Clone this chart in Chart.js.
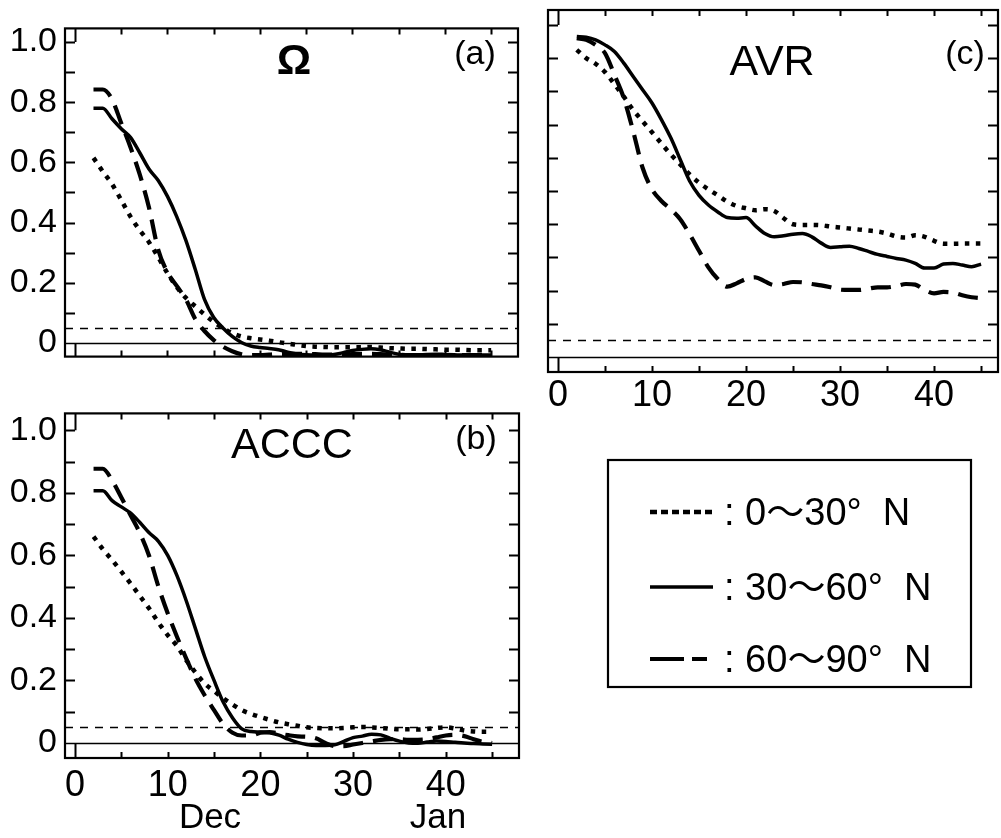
<!DOCTYPE html>
<html>
<head>
<meta charset="utf-8">
<script src="https://cdn.jsdelivr.net/npm/chart.js@4.4.1/dist/chart.umd.min.js"></script>
<style>
  html, body { margin: 0; padding: 0; background: #fff; }
  body { width: 1001px; height: 838px; position: relative; overflow: hidden;
         font-family: "Liberation Sans", Arial, "Noto Sans CJK JP", sans-serif; }
  canvas { position: absolute; }
  #legend { position: absolute; left: 0; top: 0; }
</style>
</head>
<body>
<canvas id="pa" width="530" height="385" style="left:0;top:0"></canvas>
<canvas id="pb" width="530" height="453" style="left:0;top:385px"></canvas>
<canvas id="pc" width="481" height="410" style="left:520px;top:0"></canvas>
<svg id="legend" width="1001" height="838" xmlns="http://www.w3.org/2000/svg"></svg>
<script>
// ---------------- data ----------------
const days = [2,3,4,5,6,7,8,9,10,11,12,13,14,15,16,17,18,19,20,21,22,23,24,25,26,27,28,29,30,31,32,33,34,35,36,37,38,39,40,41,42,43,44,45];

// (a) Omega
const omegaLow  = [0.615,0.57,0.528,0.475,0.42,0.375,0.335,0.285,0.232,0.186,0.15,0.122,0.095,0.07,0.05,0.033,0.022,0.016,0.012,0.008,0.003,-0.002,-0.006,-0.01,-0.012,-0.013,-0.014,-0.014,-0.014,-0.014,-0.013,-0.015,-0.017,-0.018,-0.019,-0.019,-0.02,-0.021,-0.022,-0.022,-0.023,-0.024,-0.024,-0.024];
const omegaMid  = [0.78,0.78,0.745,0.712,0.683,0.632,0.578,0.54,0.487,0.42,0.34,0.245,0.145,0.085,0.05,0.022,0.002,-0.01,-0.015,-0.018,-0.022,-0.03,-0.036,-0.039,-0.04,-0.04,-0.038,-0.032,-0.025,-0.021,-0.019,-0.022,-0.03,-0.037,-0.04,-0.04,-0.038,-0.037,-0.038,-0.039,-0.04,-0.04,-0.04,-0.04];
const omegaHigh = [0.842,0.842,0.81,0.73,0.65,0.56,0.45,0.31,0.235,0.19,0.145,0.08,0.04,0.01,-0.012,-0.027,-0.037,-0.04,-0.04,-0.038,-0.036,-0.036,-0.036,-0.036,-0.037,-0.038,-0.038,-0.038,-0.037,-0.036,-0.036,-0.037,-0.038,-0.039,-0.04,-0.04,-0.04,-0.04,-0.04,-0.04,-0.04,-0.04,-0.04,-0.04];

// (b) ACCC
const acccLow  = [0.66,0.62,0.585,0.548,0.51,0.47,0.43,0.385,0.345,0.31,0.265,0.225,0.19,0.166,0.143,0.123,0.105,0.093,0.083,0.074,0.066,0.06,0.055,0.05,0.048,0.047,0.047,0.048,0.05,0.051,0.05,0.048,0.046,0.044,0.044,0.043,0.045,0.048,0.05,0.046,0.04,0.037,0.036,0.036];
const acccMid  = [0.807,0.807,0.775,0.755,0.735,0.705,0.672,0.645,0.6,0.535,0.455,0.365,0.275,0.2,0.13,0.08,0.045,0.037,0.035,0.033,0.025,0.012,0.002,-0.005,-0.008,-0.008,-0.006,0.005,0.017,0.022,0.028,0.026,0.015,0.006,0.0,-0.001,0.003,0.006,0.005,0.002,0.0,-0.002,-0.003,-0.004];
const acccHigh = [0.877,0.877,0.84,0.785,0.728,0.671,0.598,0.5,0.415,0.34,0.27,0.205,0.152,0.105,0.06,0.033,0.024,0.024,0.033,0.035,0.03,0.025,0.021,0.02,0.015,0.0,-0.01,-0.01,-0.005,0.0,0.005,0.01,0.012,0.012,0.01,0.01,0.012,0.018,0.024,0.026,0.022,0.012,0.004,0.0];

// (c) AVR
const avrLow  = [0.925,0.9,0.883,0.858,0.822,0.784,0.744,0.71,0.677,0.643,0.61,0.58,0.55,0.525,0.505,0.487,0.468,0.455,0.448,0.442,0.445,0.44,0.418,0.4,0.398,0.398,0.397,0.393,0.39,0.387,0.384,0.381,0.378,0.372,0.363,0.36,0.367,0.362,0.35,0.341,0.341,0.342,0.342,0.342];
const avrMid  = [0.965,0.963,0.955,0.94,0.92,0.885,0.845,0.805,0.765,0.715,0.66,0.595,0.53,0.487,0.458,0.437,0.42,0.418,0.42,0.395,0.372,0.362,0.365,0.37,0.372,0.362,0.343,0.33,0.332,0.334,0.327,0.318,0.309,0.303,0.297,0.292,0.282,0.268,0.268,0.28,0.282,0.277,0.272,0.28];
const avrHigh = [0.96,0.955,0.94,0.915,0.85,0.78,0.68,0.57,0.505,0.47,0.445,0.415,0.37,0.32,0.27,0.235,0.212,0.222,0.235,0.24,0.228,0.217,0.22,0.226,0.225,0.22,0.216,0.21,0.203,0.202,0.202,0.206,0.21,0.21,0.214,0.22,0.218,0.202,0.192,0.196,0.194,0.186,0.18,0.177];

// axes / labels
const yTickVals   = [0, 0.2, 0.4, 0.6, 0.8, 1.0];
const yTickLabels = ['0', '0.2', '0.4', '0.6', '0.8', '1.0'];
const xTickVals   = [0, 10, 20, 30, 40];
const xTickLabels = ['0', '10', '20', '30', '40'];
const yMinorTicks = [0.1, 0.2, 0.3, 0.4, 0.5, 0.6, 0.7, 0.8, 0.9, 1.0];
const xMinorTicks = [5, 10, 15, 20, 25, 30, 35, 40, 45];
const thresholdValue = 0.05;
const panelTitles = ['Ω', 'ACCC', 'AVR'];
const panelTags = ['(a)', '(b)', '(c)'];
const monthLabels = ['Dec', 'Jan'];
const legendLabels = [': 0〜30°\u00a0\u00a0N', ': 30〜60°\u00a0\u00a0N', ': 60〜90°\u00a0\u00a0N'];

// ---------------- styles ----------------
const FONT = '"Liberation Sans", Arial, "Noto Sans CJK JP", sans-serif';
const lineStyles = [
  { w: 4.5, dash: [4.5, 6.5], legendDash: '7 4' },       // dotted
  { w: 3.5, dash: [], legendDash: '' },                  // solid
  { w: 4.2, dash: [20, 10], legendDash: '34 8 15 100' }  // long dash
];

const decor = {
  id: 'decor',
  beforeDatasetsDraw(chart, args, o) {
    const { ctx, chartArea: a, scales: { x, y } } = chart;
    ctx.save();
    ctx.strokeStyle = '#000';
    const y0 = Math.round(y.getPixelForValue(0)) + 0.5;
    ctx.lineWidth = 1.6;
    ctx.beginPath(); ctx.moveTo(a.left, y0); ctx.lineTo(a.right, y0); ctx.stroke();
    const yt = Math.round(y.getPixelForValue(thresholdValue)) + 0.5;
    ctx.setLineDash([8, 7]);
    ctx.beginPath(); ctx.moveTo(a.left, yt); ctx.lineTo(a.right, yt); ctx.stroke();
    ctx.restore();
  },
  afterDatasetsDraw(chart, args, o) {
    const { ctx, chartArea: a, scales: { x, y } } = chart;
    ctx.save();
    ctx.strokeStyle = '#000';
    ctx.lineWidth = 2;
    ctx.setLineDash([]);
    ctx.beginPath();
    yMinorTicks.forEach(v => {
      const py = Math.round(y.getPixelForValue(v)) + 0.5;
      ctx.moveTo(a.left, py); ctx.lineTo(a.left + 10, py);
      ctx.moveTo(a.right, py); ctx.lineTo(a.right - 10, py);
    });
    xMinorTicks.forEach(v => {
      const px = Math.round(x.getPixelForValue(v)) + 0.5;
      ctx.moveTo(px, a.top); ctx.lineTo(px, a.top + 6);
      ctx.moveTo(px, a.bottom); ctx.lineTo(px, a.bottom - 6);
    });
    const x0 = Math.round(x.getPixelForValue(0)) + 0.5;
    ctx.moveTo(x0, a.top); ctx.lineTo(x0, y.getPixelForValue(1.0));
    ctx.moveTo(x0, y.getPixelForValue(0)); ctx.lineTo(x0, a.bottom);
    ctx.stroke();
    ctx.lineWidth = 2.2;
    ctx.strokeRect(a.left, a.top, a.right - a.left, a.bottom - a.top);
    ctx.fillStyle = '#000';
    ctx.textAlign = 'center';
    ctx.textBaseline = 'alphabetic';
    ctx.font = (o.titleBold ? 'bold ' : '') + o.titleSize + 'px ' + FONT;
    ctx.fillText(o.title, o.titleX, o.titleY + 0.358 * o.titleSize);
    ctx.font = '34px ' + FONT;
    ctx.fillText(o.tag, o.tagX, o.tagY + 0.358 * 34);
    if (o.months) {
      ctx.font = '35px ' + FONT;
      o.months.forEach((m, i) => ctx.fillText(m, o.monthX[i], o.monthY + 0.358 * 35));
    }
    ctx.restore();
  }
};

function makeSets(seriesList) {
  return seriesList.map((arr, k) => ({
    data: days.map((d, i) => ({ x: d, y: arr[i] })),
    borderColor: '#000',
    borderWidth: lineStyles[k].w,
    borderDash: lineStyles[k].dash,
    borderCapStyle: 'butt',
    borderJoinStyle: 'round',
    pointRadius: 0,
    fill: false,
    cubicInterpolationMode: 'monotone'
  }));
}

function makeChart(id, p) {
  return new Chart(document.getElementById(id), {
    type: 'line',
    data: { datasets: makeSets(p.series) },
    options: {
      responsive: false, animation: false, events: [],
      layout: { padding: p.padding },
      plugins: { legend: { display: false }, tooltip: { enabled: false }, decor: p.decor },
      scales: {
        x: {
          type: 'linear', min: p.xmin, max: p.xmax, display: p.showX,
          grid: { display: false, drawTicks: false }, border: { display: false },
          afterBuildTicks: s => { s.ticks = xTickVals.map(v => ({ value: v })); },
          afterFit: s => { s.height = p.showX ? p.xAxisH : 0; },
          ticks: { padding: p.xPad, color: '#000', font: { family: FONT, size: 36 },
                   maxRotation: 0, autoSkip: false,
                   callback: (v) => xTickLabels[xTickVals.indexOf(v)] }
        },
        y: {
          type: 'linear', min: p.ymin, max: p.ymax, display: p.showY,
          grid: { display: false, drawTicks: false }, border: { display: false },
          afterBuildTicks: s => { s.ticks = yTickVals.map(v => ({ value: v })); },
          afterFit: s => { s.width = p.showY ? 65 : 0; },
          ticks: { padding: 8, color: '#000', font: { family: FONT, size: 34 },
                   callback: (v) => yTickLabels[yTickVals.indexOf(v)] }
        }
      }
    },
    plugins: [decor]
  });
}

// (a)
makeChart('pa', {
  series: [omegaLow, omegaMid, omegaHigh],
  xmin: -1.08, xmax: 47.9, ymin: -0.045, ymax: 1.045,
  showX: false, showY: true, xAxisH: 0, xPad: 0,
  padding: { left: 0, right: 12, top: 10, bottom: 13 },
  decor: { title: panelTitles[0], titleBold: true, titleSize: 43, titleX: 294, titleY: 59,
           tag: panelTags[0], tagX: 475, tagY: 52 }
});
// (b)
makeChart('pb', {
  series: [acccLow, acccMid, acccHigh],
  xmin: -1.08, xmax: 47.9, ymin: -0.048, ymax: 1.054,
  showX: true, showY: true, xAxisH: 80, xPad: 6,
  padding: { left: 0, right: 11, top: 8, bottom: 0 },
  decor: { title: panelTitles[1], titleBold: false, titleSize: 43, titleX: 292, titleY: 58,
           tag: panelTags[1], tagX: 476, tagY: 52,
           months: monthLabels, monthX: [210, 438], monthY: 430 }
});
// (c)
makeChart('pc', {
  series: [avrLow, avrMid, avrHigh],
  xmin: -1.06, xmax: 46.8, ymin: -0.045, ymax: 1.045,
  showX: true, showY: false, xAxisH: 38, xPad: 2,
  padding: { left: 28, right: 3, top: 10, bottom: 0 },
  decor: { title: panelTitles[2], titleBold: false, titleSize: 43, titleX: 252, titleY: 60,
           tag: panelTags[2], tagX: 445, tagY: 52 }
});

// legend
(function () {
  const svg = document.getElementById('legend');
  const NS = 'http://www.w3.org/2000/svg';
  const box = document.createElementNS(NS, 'rect');
  box.setAttribute('x', 608); box.setAttribute('y', 460);
  box.setAttribute('width', 363); box.setAttribute('height', 227);
  box.setAttribute('fill', 'none'); box.setAttribute('stroke', '#000'); box.setAttribute('stroke-width', 2.2);
  svg.appendChild(box);
  const rowY = [511, 586, 658];
  legendLabels.forEach((lab, k) => {
    const ln = document.createElementNS(NS, 'line');
    ln.setAttribute('x1', 650); ln.setAttribute('x2', k === 2 ? 708 : 713);
    ln.setAttribute('y1', rowY[k] + 1); ln.setAttribute('y2', rowY[k] + 1);
    ln.setAttribute('stroke', '#000'); ln.setAttribute('stroke-width', lineStyles[k].w);
    if (lineStyles[k].legendDash) ln.setAttribute('stroke-dasharray', lineStyles[k].legendDash);
    svg.appendChild(ln);
    const t = document.createElementNS(NS, 'text');
    t.setAttribute('x', 724); t.setAttribute('y', rowY[k] + 0.358 * 38);
    t.setAttribute('font-size', 38); t.setAttribute('font-family', FONT.replace(/"/g, "'"));
    t.setAttribute('fill', '#000');
    t.textContent = lab;
    svg.appendChild(t);
  });
})();
</script>
</body>
</html>
